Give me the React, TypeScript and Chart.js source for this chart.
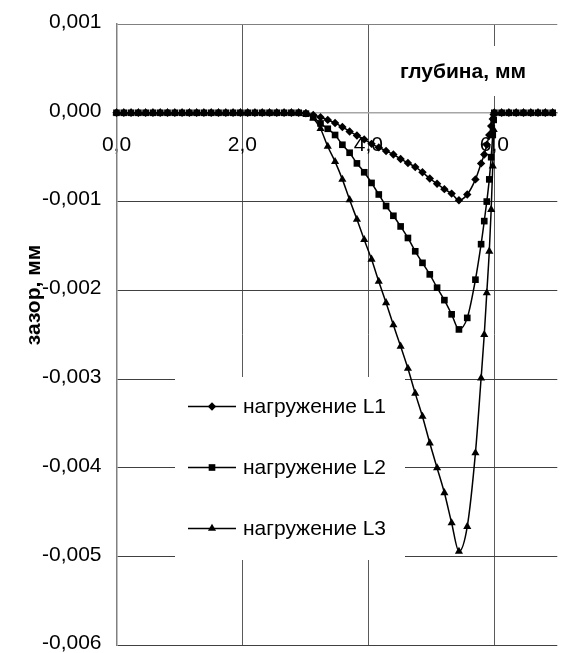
import React, { useEffect, useRef } from 'react';
import { Chart, registerables } from 'chart.js';

Chart.register(...registerables);

// depth, mm (x values of the computed nodes)
const depth = [
  0, 0.116, 0.231, 0.347, 0.463, 0.579, 0.694, 0.81, 0.926, 1.041,
  1.157, 1.273, 1.388, 1.504, 1.62, 1.736, 1.851, 1.967, 2.083, 2.198,
  2.314, 2.43, 2.545, 2.661, 2.777, 2.893, 3.008, 3.124, 3.24, 3.355,
  3.471, 3.587, 3.702, 3.818, 3.934, 4.05, 4.165, 4.281, 4.397, 4.512,
  4.628, 4.744, 4.859, 4.975, 5.091, 5.207, 5.322, 5.438,
  5.57, 5.7, 5.79, 5.84, 5.88, 5.92, 5.95, 5.975, 5.99,
  6.0, 6.116, 6.231, 6.347, 6.463, 6.579, 6.694, 6.81, 6.926,
];

// gap, mm
const gapL1 = [
  0, 0, 0, 0, 0, 0, 0, 0, 0, 0,
  0, 0, 0, 0, 0, 0, 0, 0, 0, 0,
  0, 0, 0, 0, 0, 0, -0.005e-3, -0.025e-3, -0.05e-3, -0.08e-3,
  -0.115e-3, -0.16e-3, -0.21e-3, -0.255e-3, -0.3e-3, -0.35e-3, -0.39e-3, -0.43e-3, -0.47e-3, -0.52e-3,
  -0.565e-3, -0.61e-3, -0.67e-3, -0.74e-3, -0.8e-3, -0.86e-3, -0.91e-3, -0.985e-3,
  -0.92e-3, -0.75e-3, -0.57e-3, -0.47e-3, -0.36e-3, -0.25e-3, -0.15e-3, -0.07e-3, -0.02e-3,
  0, 0, 0, 0, 0, 0, 0, 0, 0,
];

const gapL2 = [
  0, 0, 0, 0, 0, 0, 0, 0, 0, 0,
  0, 0, 0, 0, 0, 0, 0, 0, 0, 0,
  0, 0, 0, 0, 0, 0, -0.01e-3, -0.05e-3, -0.12e-3, -0.18e-3,
  -0.25e-3, -0.36e-3, -0.45e-3, -0.57e-3, -0.67e-3, -0.79e-3, -0.92e-3, -1.05e-3, -1.16e-3, -1.28e-3,
  -1.41e-3, -1.56e-3, -1.69e-3, -1.82e-3, -1.97e-3, -2.11e-3, -2.27e-3, -2.44e-3,
  -2.31e-3, -1.88e-3, -1.48e-3, -1.22e-3, -1.0e-3, -0.75e-3, -0.5e-3, -0.25e-3, -0.08e-3,
  0, 0, 0, 0, 0, 0, 0, 0, 0,
];

const gapL3 = [
  0, 0, 0, 0, 0, 0, 0, 0, 0, 0,
  0, 0, 0, 0, 0, 0, 0, 0, 0, 0,
  0, 0, 0, 0, 0, 0, -0.01e-3, -0.06e-3, -0.18e-3, -0.38e-3,
  -0.55e-3, -0.75e-3, -0.98e-3, -1.2e-3, -1.43e-3, -1.65e-3, -1.9e-3, -2.14e-3, -2.39e-3, -2.63e-3,
  -2.88e-3, -3.16e-3, -3.42e-3, -3.72e-3, -4.0e-3, -4.28e-3, -4.62e-3, -4.94e-3,
  -4.66e-3, -3.83e-3, -2.99e-3, -2.5e-3, -2.03e-3, -1.56e-3, -1.09e-3, -0.6e-3, -0.19e-3,
  0, 0, 0, 0, 0, 0, 0, 0, 0,
];

const seriesNames = ['нагружение L1', 'нагружение L2', 'нагружение L3'];
const xTitle = 'глубина, мм';
const yTitle = 'зазор, мм';

const FONT = '"Liberation Sans", Arial, Helvetica, sans-serif';

function drawMarker(ctx: CanvasRenderingContext2D, style: string, x: number, y: number, r: number) {
  ctx.beginPath();
  if (style === 'rectRot') {
    ctx.moveTo(x, y - r);
    ctx.lineTo(x + r, y);
    ctx.lineTo(x, y + r);
    ctx.lineTo(x - r, y);
  } else if (style === 'rect') {
    const s = r * Math.SQRT1_2;
    ctx.rect(x - s, y - s, 2 * s, 2 * s);
  } else {
    const h = r * 1.5;
    const w = (r * Math.sqrt(3)) / 2;
    ctx.moveTo(x, y - r);
    ctx.lineTo(x + w, y + h - r);
    ctx.lineTo(x - w, y + h - r);
  }
  ctx.closePath();
  ctx.fill();
}

export default function App() {
  const ref = useRef<HTMLCanvasElement>(null);

  useEffect(() => {
    document.body.style.margin = '0';
    const canvas = ref.current;
    if (!canvas) return;

    const styles = ['rectRot', 'rect', 'triangle'];
    const radii = [4.2, 4.7, 4.7];
    const series = [gapL1, gapL2, gapL3];

    const overlay = {
      id: 'overlay',
      beforeDatasetsDraw(chart: any) {
        const ctx: CanvasRenderingContext2D = chart.ctx;
        ctx.save();
        ctx.fillStyle = '#ffffff';
        ctx.fillRect(175, 377, 230, 183);
        ctx.fillRect(385, 46, 177, 50);
        ctx.restore();
      },
      afterDatasetsDraw(chart: any) {
        const ctx: CanvasRenderingContext2D = chart.ctx;
        ctx.save();
        ctx.fillStyle = '#000';
        ctx.strokeStyle = '#000';
        ctx.font = 'bold 21px ' + FONT;
        ctx.textAlign = 'center';
        ctx.textBaseline = 'middle';
        ctx.fillText(xTitle, 463, 72);
        ctx.save();
        ctx.translate(34, 295);
        ctx.rotate(-Math.PI / 2);
        ctx.fillText(yTitle, 0, 0);
        ctx.restore();
        ctx.font = '21px ' + FONT;
        ctx.textAlign = 'left';
        for (let i = 0; i < seriesNames.length; i++) {
          const y = 406.5 + i * 61;
          ctx.lineWidth = 1.5;
          ctx.beginPath();
          ctx.moveTo(188, y);
          ctx.lineTo(236, y);
          ctx.stroke();
          drawMarker(ctx, styles[i], 212, y, radii[i]);
          ctx.fillText(seriesNames[i], 243, y + 1);
        }
        ctx.restore();
      },
    };

    const chart = new Chart(canvas, {
      type: 'line',
      data: {
        datasets: series.map((vals, i) => ({
          label: seriesNames[i],
          data: depth.map((x, j) => ({ x, y: vals[j] })),
          borderColor: '#000',
          backgroundColor: '#000',
          borderWidth: 1.5,
          pointStyle: styles[i] as any,
          pointRadius: radii[i],
          pointBorderWidth: 0,
          pointBackgroundColor: '#000',
          pointBorderColor: '#000',
          cubicInterpolationMode: 'monotone' as const,
          clip: false as any,
        })),
      },
      options: {
        responsive: false,
        animation: false,
        devicePixelRatio: 1,
        layout: { padding: { top: 24, bottom: 7.5, left: 0, right: 0 } },
        plugins: {
          legend: { display: false },
          tooltip: { enabled: false },
        },
        scales: {
          x: {
            type: 'linear',
            min: 0,
            max: 7,
            position: { y: 0 } as any,
            afterFit: (s: any) => {
              s.height = 0;
              s.paddingLeft = 0;
              s.paddingRight = 0;
              s.paddingTop = 0;
              s.paddingBottom = 0;
            },
            afterBuildTicks: (s: any) => {
              s.ticks = s.ticks.filter((t: any) => t.value <= 6.5);
            },
            ticks: {
              stepSize: 2,
              maxRotation: 0,
              autoSkip: false,
              padding: 20,
              color: '#000',
              font: { family: FONT, size: 21 },
              callback: (v: any) => Number(v).toFixed(1).replace('.', ','),
            },
            grid: {
              color: '#5a5a5a',
              lineWidth: 1,
              drawTicks: false,
            },
            border: { color: '#a6a6a6', width: 1.5 },
          },
          y: {
            type: 'linear',
            min: -0.006,
            max: 0.001,
            afterFit: (s: any) => {
              s.width = 116.5;
              s.paddingLeft = 0;
              s.paddingRight = 0;
              s.paddingTop = 0;
              s.paddingBottom = 0;
            },
            ticks: {
              stepSize: 0.001,
              padding: 15,
              labelOffset: -2,
              color: '#000',
              font: { family: FONT, size: 21 },
              callback: (v: any) => {
                const n = Math.abs(Number(v)) < 1e-12 ? 0 : Number(v);
                return n.toFixed(3).replace('.', ',');
              },
            },
            grid: {
              drawTicks: false,
              lineWidth: 1,
              color: (c: any) => {
                const v = c.tick ? c.tick.value : 0;
                if (Math.abs(v) < 1e-9) return '#a6a6a6';
                if (Math.abs(v - 0.001) < 1e-9) return '#808080';
                return '#404040';
              },
            },
            border: { color: '#808080', width: 1.5 },
          },
        },
      },
      plugins: [overlay],
    });

    return () => chart.destroy();
  }, []);

  return <canvas ref={ref} width={562} height={653} style={{ display: 'block' }} />;
}
